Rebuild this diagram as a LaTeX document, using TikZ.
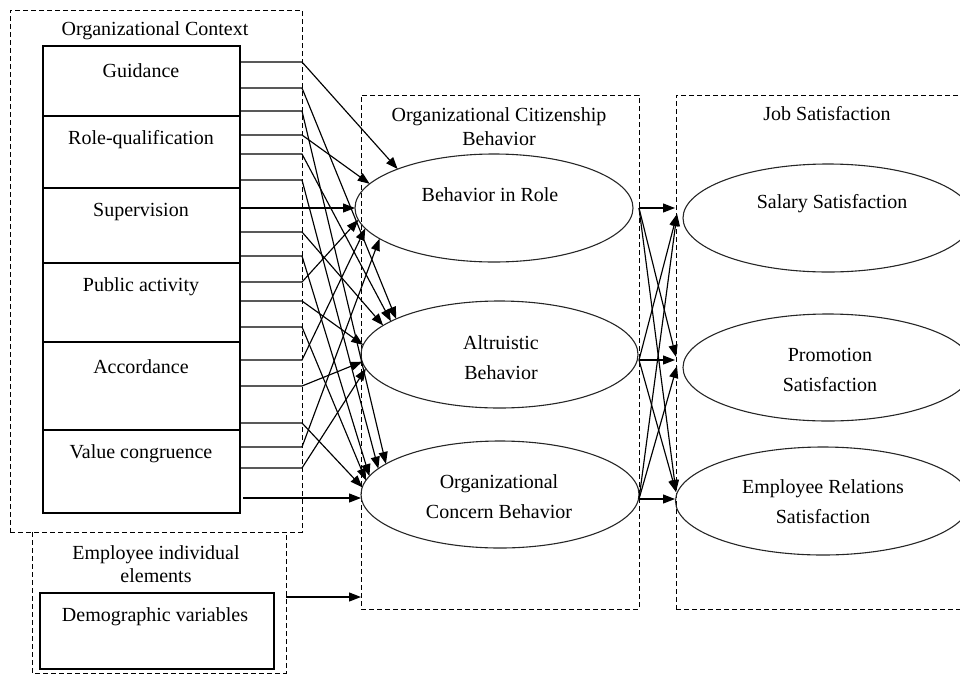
\documentclass[tikz,border=0pt]{standalone}
\usepackage{fontspec}
\setmainfont{Liberation Serif}
\usetikzlibrary{arrows.meta,shapes.geometric}
\begin{document}
\begin{tikzpicture}[x=1pt,y=-1pt,
  every node/.style={font=\fontsize{20}{24}\selectfont, inner sep=0pt, outer sep=0pt},
  dbox/.style={draw, dash pattern=on 5pt off 3pt, line width=1pt},
  dline/.style={dash pattern=on 5pt off 3pt, line width=1pt},
  sbox/.style={draw, line width=1.1pt},
  ell/.style={draw=black!85, ellipse, line width=1.1pt},
  etext/.style={align=center, font=\fontsize{20}{30}\selectfont},
  ttl/.style={align=center},
  conn/.style={line width=1.15pt, -{Triangle[length=12pt,width=9pt]}}]
\useasboundingbox (0,0) rectangle (960,675);

% dashed group boxes
\node[dbox, minimum width=292pt, minimum height=522pt] (OC) at (156,271) {};
\node[dbox, minimum width=278pt, minimum height=514pt] (OCBx) at (500,352) {};
\node[dbox, minimum width=304pt, minimum height=514pt] (JS) at (828,352) {};
\node[minimum width=254pt, minimum height=141pt] (EIE) at (159,602.5) {};
\draw[dline] (EIE.north west) -- (EIE.south west) -- (EIE.south east) -- (EIE.north east);

% titles
\node (OCt) at (155,31) {Organizational Context};
\node[ttl] (OCBt) at (499,127) {Organizational Citizenship\\Behavior};
\node (JSt) at (827,114) {Job Satisfaction};
\node[ttl, font=\fontsize{20}{23}\selectfont] (EIEt) at (156,564.5) {Employee individual\\elements};

% organizational context stack
\node[sbox, minimum width=197pt, minimum height=70pt] (G1) at (141.5,81) {};
\node[sbox, minimum width=197pt, minimum height=72pt] (G2) at (141.5,152) {};
\node[sbox, minimum width=197pt, minimum height=75pt] (G3) at (141.5,225.5) {};
\node[sbox, minimum width=197pt, minimum height=79pt] (G4) at (141.5,302.5) {};
\node[sbox, minimum width=197pt, minimum height=88pt] (G5) at (141.5,386) {};
\node[sbox, minimum width=197pt, minimum height=83pt] (G6) at (141.5,471.5) {};
\node (G1t) at (141,71) {Guidance};
\node (G2t) at (141,140) {Role-qualification};
\node (G3t) at (141,212) {Supervision};
\node (G4t) at (141,287) {Public activity};
\node (G5t) at (141,367) {Accordance};
\node (G6t) at (141,454) {Value congruence};

% demographic
\node[sbox, minimum width=234pt, minimum height=76pt] (Dem) at (157,631) {};
\node (Demt) at (155,617) {Demographic variables};

% ellipses
\node[ell, minimum width=278pt, minimum height=108pt] (BiR) at (494,208) {};
\node[ell, minimum width=277pt, minimum height=107pt] (Alt) at (499.5,354.5) {};
\node[ell, minimum width=278pt, minimum height=107pt] (OCB) at (500,494.5) {};
\node[ell, minimum width=290pt, minimum height=108pt] (Sal) at (828,218) {};
\node[ell, minimum width=290pt, minimum height=107pt] (Pro) at (828,367.5) {};
\node[ell, minimum width=295pt, minimum height=108pt] (Emp) at (823,501) {};

\node (BiRt) at (490,195) {Behavior in Role};
\node[etext] (Altt) at (501,358) {Altruistic\\Behavior};
\node[etext] (OCBt2) at (499,497) {Organizational\\Concern Behavior};
\node (Salt) at (832,204) {Salary Satisfaction};
\node[etext] (Prot) at (830,370) {Promotion\\Satisfaction};
\node[etext] (Empt) at (823,502) {Employee Relations\\Satisfaction};

% left connectors
\foreach \i/\y in {1/62,2/88,3/111,4/135,5/154,6/180,7/208,8/232,9/256,10/282,11/301,12/327,13/360,14/386,15/423,16/447,17/468}{
  \coordinate (s\i) at (240,\y);
  \coordinate (k\i) at (302,\y);
}
\foreach \i/\t/\a in {1/BiR/158,2/Alt/161,3/OCB/165,4/BiR/169,5/Alt/163,6/OCB/168,7/BiR/180,8/Alt/166,9/OCB/172,10/BiR/185,11/Alt/176,12/OCB/174,13/BiR/189,14/Alt/183,15/OCB/177,16/BiR/195,17/Alt/186}{
  \draw[conn] (s\i) -- (k\i) -- (\t.\a);
}
\coordinate (s18) at (243,498);
\draw[conn] (s18) -- (s18 -| OCB.west);

% demographic arrow
\coordinate (d0) at (286,597);
\draw[conn] (d0) -- (d0 -| OCBx.west);

% right connectors
\coordinate (r1) at (639,208);
\coordinate (r2) at (639,360);
\coordinate (r3) at (639,499);
\coordinate (t11) at (675,208);
\coordinate (t21) at (677,214);
\coordinate (t31) at (677,214);
\coordinate (t12) at (676,357);
\coordinate (t22) at (675,360);
\coordinate (t32) at (677,366);
\coordinate (t13) at (676,492);
\coordinate (t23) at (676,492);
\coordinate (t33) at (675,499);
\foreach \a in {1,2,3}{
  \foreach \b in {1,2,3}{
    \draw[conn] (r\a) -- (t\a\b);
  }
}
\end{tikzpicture}
\end{document}
